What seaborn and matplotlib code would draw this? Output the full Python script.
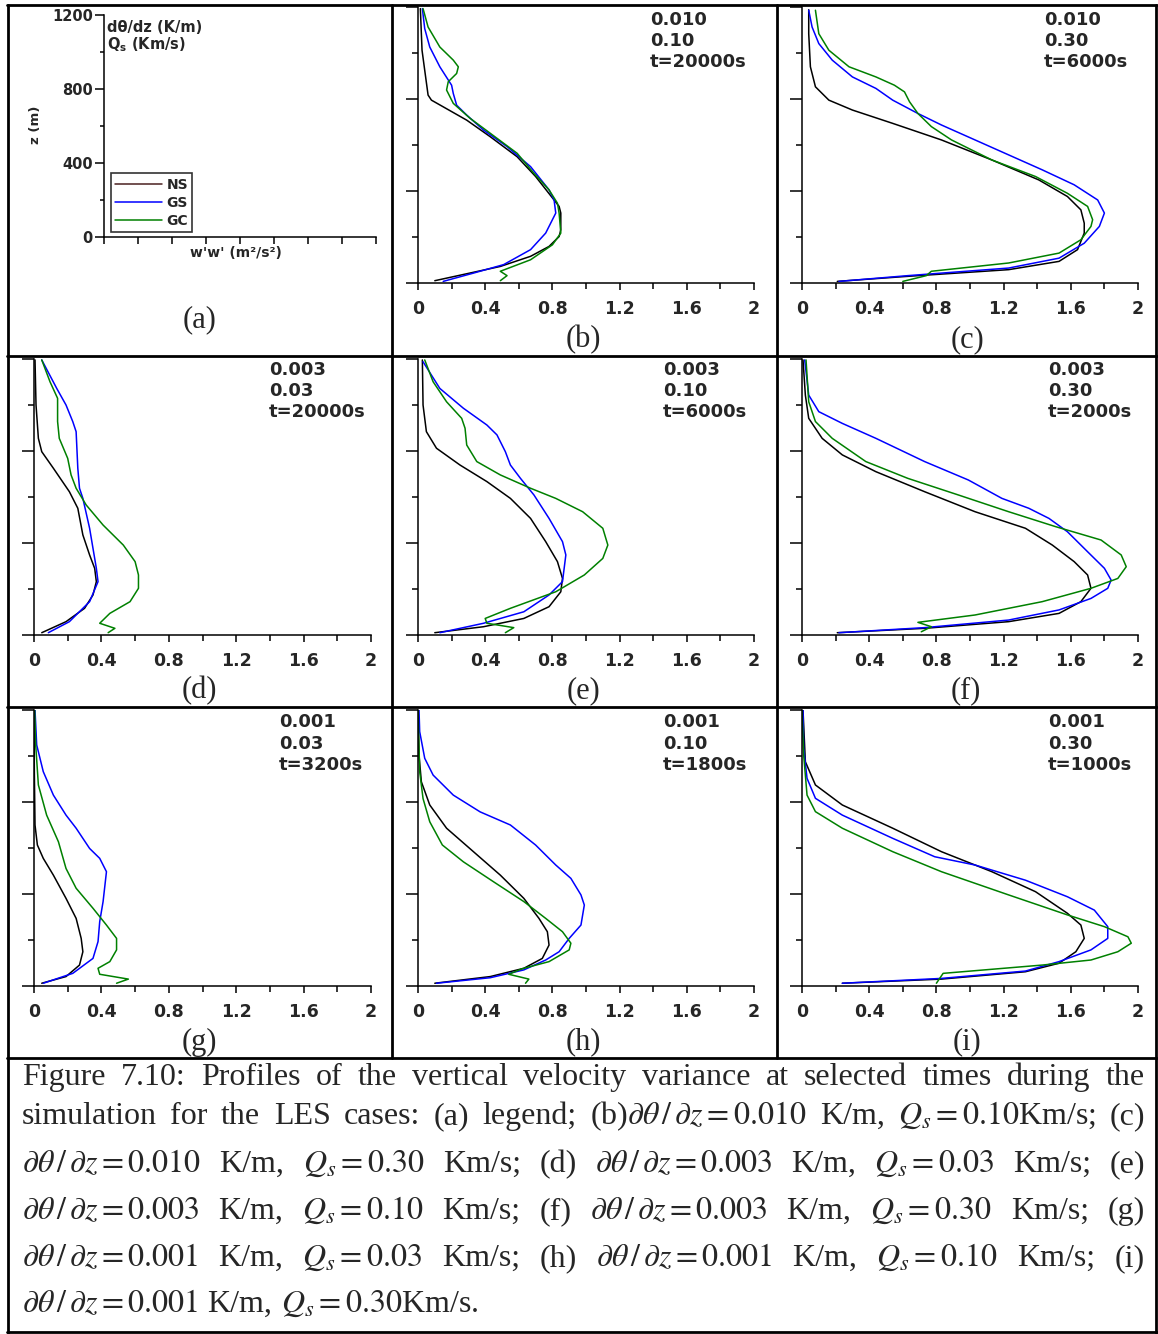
import numpy as np
import pandas as pd
import matplotlib
matplotlib.use("Agg")
import matplotlib.pyplot as plt
import seaborn as sns
from matplotlib.lines import Line2D
from matplotlib.ticker import MultipleLocator, FuncFormatter

# ---------------- data (w'w' in m2/s2 , z in m) ----------------
series_names = ["NS", "GS", "GC"]
series_colors = ["#000000", "#0000ff", "#008000"]
legend_colors = ["#4a2020", "#0000ff", "#008000"]

panel_letters = ["b", "c", "d", "e", "f", "g", "h", "i"]
panel_gradients = ["0.010", "0.010", "0.003", "0.003", "0.003", "0.001", "0.001", "0.001"]
panel_fluxes = ["0.10", "0.30", "0.03", "0.10", "0.30", "0.03", "0.10", "0.30"]
panel_times = ["t=20000s", "t=6000s", "t=20000s", "t=6000s", "t=2000s", "t=3200s", "t=1800s", "t=1000s"]

x_ticks = [0, 0.4, 0.8, 1.2, 1.6, 2]
z_ticks = [0, 400, 800, 1200]

# (b)
b_ns_x = [0.10, 0.49, 0.67, 0.78, 0.84, 0.85, 0.85, 0.84, 0.70, 0.59, 0.43, 0.29, 0.15, 0.08, 0.06, 0.04, 0.024, 0.014]
b_ns_z = [10, 72, 116, 159, 202, 231, 304, 333, 463, 549, 636, 708, 766, 795, 817, 925, 1012, 1193]
b_gs_x = [0.15, 0.33, 0.51, 0.67, 0.76, 0.82, 0.81, 0.78, 0.67, 0.53, 0.39, 0.29, 0.23, 0.21, 0.20, 0.13, 0.07, 0.04, 0.026]
b_gs_z = [7, 43, 80, 145, 217, 304, 361, 405, 506, 593, 665, 730, 773, 824, 860, 940, 1026, 1106, 1193]
b_gc_x = [0.49, 0.53, 0.49, 0.67, 0.80, 0.85, 0.84, 0.83, 0.78, 0.69, 0.59, 0.43, 0.31, 0.21, 0.17, 0.18, 0.23, 0.24, 0.21, 0.13, 0.06, 0.03]
b_gc_z = [10, 32, 51, 101, 166, 217, 304, 347, 405, 477, 564, 651, 716, 781, 839, 875, 911, 940, 969, 1026, 1113, 1193]

# (c)
c_ns_x = [0.21, 0.63, 1.23, 1.53, 1.64, 1.68, 1.68, 1.66, 1.58, 1.41, 1.13, 0.83, 0.54, 0.30, 0.16, 0.08, 0.05, 0.04, 0.04]
c_ns_z = [7, 29, 58, 94, 145, 217, 260, 318, 376, 448, 535, 622, 694, 752, 795, 853, 940, 1084, 1188]
c_gs_x = [0.22, 0.63, 1.23, 1.53, 1.68, 1.77, 1.80, 1.76, 1.62, 1.43, 1.23, 1.03, 0.83, 0.69, 0.54, 0.44, 0.30, 0.18, 0.10, 0.06, 0.04]
c_gs_z = [7, 32, 65, 108, 173, 246, 304, 361, 427, 492, 557, 622, 687, 737, 795, 846, 896, 969, 1041, 1113, 1186]
c_gc_x = [0.60, 0.74, 0.77, 1.23, 1.53, 1.66, 1.72, 1.73, 1.70, 1.58, 1.39, 1.13, 0.89, 0.77, 0.69, 0.64, 0.61, 0.55, 0.44, 0.28, 0.16, 0.10, 0.08]
c_gc_z = [7, 32, 51, 87, 130, 188, 246, 275, 333, 390, 463, 535, 622, 680, 737, 788, 831, 860, 896, 940, 1012, 1084, 1186]

# (d)
d_ns_x = [0.046, 0.19, 0.30, 0.35, 0.37, 0.36, 0.33, 0.29, 0.26, 0.21, 0.115, 0.046, 0.026, 0.012, 0.006]
d_ns_z = [10, 58, 116, 174, 232, 290, 348, 435, 551, 623, 725, 797, 855, 1000, 1196]
d_gs_x = [0.085, 0.21, 0.33, 0.38, 0.37, 0.35, 0.33, 0.29, 0.27, 0.26, 0.25, 0.23, 0.19, 0.135, 0.046]
d_gs_z = [10, 58, 145, 232, 290, 377, 464, 594, 638, 725, 884, 928, 1000, 1072, 1196]
d_gc_x = [0.44, 0.48, 0.39, 0.45, 0.57, 0.62, 0.62, 0.60, 0.53, 0.41, 0.31, 0.25, 0.22, 0.20, 0.15, 0.14, 0.14, 0.095, 0.046]
d_gc_z = [10, 29, 51, 94, 145, 203, 261, 319, 391, 478, 565, 638, 696, 768, 855, 928, 1029, 1101, 1196]

# (e)
e_ns_x = [0.10, 0.39, 0.63, 0.78, 0.85, 0.86, 0.83, 0.76, 0.67, 0.55, 0.41, 0.25, 0.11, 0.05, 0.03, 0.026]
e_ns_z = [10, 36, 72, 123, 188, 246, 319, 406, 507, 594, 667, 739, 812, 884, 1000, 1196]
e_gs_x = [0.13, 0.39, 0.63, 0.78, 0.86, 0.88, 0.86, 0.78, 0.69, 0.61, 0.55, 0.52, 0.47, 0.41, 0.27, 0.13, 0.03]
e_gs_z = [10, 51, 101, 174, 232, 348, 406, 507, 609, 681, 739, 797, 870, 913, 986, 1072, 1188]
e_gc_x = [0.52, 0.57, 0.41, 0.40, 0.55, 0.82, 0.99, 1.10, 1.13, 1.10, 0.98, 0.82, 0.67, 0.49, 0.35, 0.29, 0.28, 0.26, 0.17, 0.09, 0.04]
e_gc_z = [10, 32, 51, 72, 116, 188, 261, 333, 391, 464, 536, 594, 638, 696, 754, 826, 899, 942, 1014, 1101, 1196]

# (f)
f_ns_x = [0.21, 0.73, 1.23, 1.53, 1.66, 1.72, 1.70, 1.62, 1.49, 1.33, 1.03, 0.73, 0.44, 0.24, 0.12, 0.04, 0.02, 0.006]
f_ns_z = [10, 29, 58, 94, 145, 203, 261, 319, 391, 464, 536, 623, 710, 783, 855, 942, 1043, 1196]
f_gs_x = [0.22, 0.73, 1.23, 1.53, 1.72, 1.82, 1.84, 1.80, 1.70, 1.58, 1.47, 1.35, 1.19, 0.99, 0.73, 0.44, 0.24, 0.10, 0.04, 0.016]
f_gs_z = [10, 32, 65, 109, 159, 203, 239, 290, 362, 449, 507, 551, 594, 674, 754, 855, 920, 971, 1043, 1196]
f_gc_x = [0.71, 0.77, 0.69, 1.03, 1.43, 1.72, 1.88, 1.93, 1.90, 1.78, 1.51, 1.23, 0.93, 0.63, 0.38, 0.18, 0.08, 0.04, 0.024]
f_gc_z = [14, 36, 55, 87, 145, 203, 246, 297, 348, 413, 471, 536, 609, 681, 754, 855, 928, 1014, 1196]

# (g)
g_ns_x = [0.046, 0.19, 0.27, 0.29, 0.28, 0.25, 0.19, 0.115, 0.055, 0.02, 0.006, 0.002, 0.0]
g_ns_z = [12, 41, 91, 149, 207, 294, 381, 482, 555, 613, 700, 932, 1200]
g_gs_x = [0.055, 0.23, 0.35, 0.38, 0.39, 0.41, 0.43, 0.39, 0.33, 0.25, 0.19, 0.115, 0.055, 0.016, 0.006]
g_gs_z = [12, 55, 120, 193, 280, 367, 497, 555, 598, 686, 743, 830, 932, 1048, 1200]
g_gc_x = [0.49, 0.56, 0.39, 0.38, 0.45, 0.49, 0.49, 0.43, 0.35, 0.25, 0.19, 0.145, 0.075, 0.026, 0.01, 0.004]
g_gc_z = [12, 30, 51, 77, 106, 157, 207, 265, 338, 425, 511, 627, 743, 874, 1048, 1200]

# (h)
h_ns_x = [0.10, 0.43, 0.63, 0.74, 0.78, 0.77, 0.72, 0.63, 0.49, 0.33, 0.17, 0.07, 0.02, 0.006, 0.0]
h_ns_z = [12, 41, 77, 120, 178, 236, 294, 381, 482, 584, 686, 787, 888, 1004, 1200]
h_gs_x = [0.11, 0.43, 0.63, 0.76, 0.84, 0.90, 0.97, 0.99, 0.97, 0.91, 0.82, 0.70, 0.55, 0.37, 0.21, 0.09, 0.04, 0.01, 0.006]
h_gs_z = [12, 36, 70, 113, 149, 207, 265, 352, 396, 468, 526, 613, 700, 757, 830, 917, 990, 1106, 1200]
h_gc_x = [0.64, 0.66, 0.54, 0.62, 0.78, 0.90, 0.91, 0.86, 0.76, 0.63, 0.45, 0.27, 0.145, 0.07, 0.03, 0.01, 0.0]
h_gc_z = [12, 30, 51, 75, 106, 157, 186, 236, 294, 367, 453, 540, 613, 714, 815, 932, 1200]

# (i)
i_ns_x = [0.24, 0.83, 1.33, 1.53, 1.63, 1.68, 1.66, 1.58, 1.39, 1.13, 0.83, 0.54, 0.24, 0.08, 0.02, 0.006]
i_ns_z = [12, 30, 62, 99, 149, 207, 265, 316, 410, 497, 584, 686, 787, 874, 975, 1200]
i_gs_x = [0.24, 0.83, 1.33, 1.53, 1.72, 1.82, 1.82, 1.74, 1.58, 1.33, 1.03, 0.79, 0.54, 0.24, 0.08, 0.03, 0.01, 0.006]
i_gs_z = [12, 33, 65, 106, 157, 207, 258, 330, 388, 460, 526, 562, 642, 743, 816, 903, 1033, 1200]
i_gc_x = [0.80, 0.84, 1.43, 1.72, 1.88, 1.96, 1.94, 1.80, 1.58, 1.23, 0.83, 0.54, 0.24, 0.08, 0.03, 0.01, 0.0]
i_gc_z = [12, 55, 91, 113, 149, 186, 214, 258, 309, 396, 497, 584, 686, 758, 830, 1004, 1200]

panel_data = {
    "b": [(b_ns_x, b_ns_z), (b_gs_x, b_gs_z), (b_gc_x, b_gc_z)],
    "c": [(c_ns_x, c_ns_z), (c_gs_x, c_gs_z), (c_gc_x, c_gc_z)],
    "d": [(d_ns_x, d_ns_z), (d_gs_x, d_gs_z), (d_gc_x, d_gc_z)],
    "e": [(e_ns_x, e_ns_z), (e_gs_x, e_gs_z), (e_gc_x, e_gc_z)],
    "f": [(f_ns_x, f_ns_z), (f_gs_x, f_gs_z), (f_gc_x, f_gc_z)],
    "g": [(g_ns_x, g_ns_z), (g_gs_x, g_gs_z), (g_gc_x, g_gc_z)],
    "h": [(h_ns_x, h_ns_z), (h_gs_x, h_gs_z), (h_gc_x, h_gc_z)],
    "i": [(i_ns_x, i_ns_z), (i_gs_x, i_gs_z), (i_gc_x, i_gc_z)],
}

caption_lines = [
    ["Figure", "7.10:", "Profiles", "of", "the", "vertical", "velocity", "variance", "at", "selected", "times", "during", "the"],
    ["simulation", "for", "the", "LES", "cases:", "(a)", "legend;", r"(b)$\partial\theta\,/\,\partial z = 0.010$", "K/m,", r"$Q_s = 0.10$Km/s;", "(c)"],
    [r"$\partial\theta\,/\,\partial z = 0.010$", "K/m,", r"$Q_s = 0.30$", "Km/s;", "(d)", r"$\partial\theta\,/\,\partial z = 0.003$", "K/m,", r"$Q_s = 0.03$", "Km/s;", "(e)"],
    [r"$\partial\theta\,/\,\partial z = 0.003$", "K/m,", r"$Q_s = 0.10$", "Km/s;", "(f)", r"$\partial\theta\,/\,\partial z = 0.003$", "K/m,", r"$Q_s = 0.30$", "Km/s;", "(g)"],
    [r"$\partial\theta\,/\,\partial z = 0.001$", "K/m,", r"$Q_s = 0.03$", "Km/s;", "(h)", r"$\partial\theta\,/\,\partial z = 0.001$", "K/m,", r"$Q_s = 0.10$", "Km/s;", "(i)"],
    [r"$\partial\theta\,/\,\partial z = 0.001$", "K/m,", r"$Q_s = 0.30$Km/s."],
]

# ---------------- styling ----------------
sns.set_theme(style="ticks")
plt.rcParams["font.family"] = ["DejaVu Sans"]
plt.rcParams["mathtext.fontset"] = "stix"
plt.rcParams["axes.linewidth"] = 1.1

W, H = 1158, 1334
fig = plt.figure(figsize=(W / 100, H / 100), dpi=100)


def rect(l, t, r, b):
    return [l / W, 1 - b / H, (r - l) / W, (b - t) / H]


def P(px, py):
    return (px / W, 1 - py / H)


SANS_B = dict(family="DejaVu Sans", weight="bold")
SERIF = "Liberation Serif"

panel_rects = {
    "b": (418, 7, 754, 283), "c": (802, 7, 1138, 283),
    "d": (34, 359, 371, 635), "e": (418, 359, 754, 635), "f": (802, 359, 1138, 635),
    "g": (34, 710, 371, 986), "h": (418, 710, 754, 986), "i": (802, 710, 1138, 986),
}
annot_x = {"b": 650, "c": 1044, "d": 269, "e": 663, "f": 1048, "g": 279, "h": 663, "i": 1048}
row_annot_y = {7: (20, 41, 62), 359: (370, 391, 412), 710: (722, 744, 765)}
label_pos = {"a": (200, 320), "b": (583, 340), "c": (968, 340),
             "d": (199, 691), "e": (583, 691), "f": (966, 691),
             "g": (199, 1042), "h": (583, 1042), "i": (967, 1042)}


def style_axis(ax, xmax):
    ax.set_xlim(0, xmax)
    ax.set_ylim(0, 1200)
    ax.set_xlabel("")
    ax.set_ylabel("")
    sns.despine(ax=ax)
    for s in ("left", "bottom"):
        ax.spines[s].set_linewidth(1.1)
        ax.spines[s].set_color("black")
    ax.xaxis.set_major_locator(MultipleLocator(0.4))
    ax.xaxis.set_minor_locator(MultipleLocator(0.2))
    ax.yaxis.set_major_locator(MultipleLocator(400))
    ax.yaxis.set_minor_locator(MultipleLocator(200))
    ax.tick_params(axis="y", which="major", length=8.5, width=1.1, direction="out", color="black")
    ax.tick_params(axis="y", which="minor", length=4.5, width=1.1, direction="out", color="black")
    ax.tick_params(axis="x", which="major", length=5, width=1.1, direction="out", color="black")
    ax.tick_params(axis="x", which="minor", length=4.5, width=1.1, direction="out", color="black")
    ax.patch.set_alpha(0)


# ---------------- panel (a) : legend panel ----------------
ax_a = fig.add_axes(rect(104, 15, 376, 237))
style_axis(ax_a, 1.6)
ax_a.tick_params(axis="y", which="major", length=6.5, pad=1.5, labelsize=10.5)
ax_a.tick_params(axis="y", which="minor", length=3)
ax_a.tick_params(axis="x", which="both", labelbottom=False, length=5)
ax_a.set_yticks(z_ticks)
ax_a.set_yticklabels([str(v) for v in z_ticks], fontweight="bold", fontsize=10.5)
handles = [Line2D([], [], color=c, lw=1.1) for c in legend_colors]
leg = ax_a.legend(handles, series_names, loc="lower left", bbox_to_anchor=(0.026, 0.022),
                  borderaxespad=0, frameon=True, fancybox=False, edgecolor="#333333",
                  framealpha=1, handlelength=3.4, handletextpad=0.3, labelspacing=0.3,
                  borderpad=0.3, prop=dict(family="DejaVu Sans", weight="bold", size=10))
leg.get_frame().set_linewidth(1.2)
fig.text(*P(107, 27), "dθ/dz (K/m)", fontsize=10.5, va="center", ha="left", **SANS_B)
fig.text(*P(107, 45), r"Q$_\mathbf{s}$ (Km/s)", fontsize=10.5, va="center", ha="left",
         math_fontfamily="dejavusans", **SANS_B)
fig.text(*P(35, 125), "z (m)", fontsize=9.5, rotation=90, va="center", ha="center", **SANS_B)
fig.text(*P(236, 253), "w'w' (m²/s²)", fontsize=10, va="center", ha="center", **SANS_B)

# ---------------- data panels ----------------
for k, letter in enumerate(panel_letters):
    l, t, r, b = panel_rects[letter]
    ax = fig.add_axes(rect(l, t, r, b))
    for (xs, zs), color in zip(panel_data[letter], series_colors):
        df = pd.DataFrame({"w": xs, "z": zs})
        sns.lineplot(data=df, x="w", y="z", sort=False, estimator=None,
                     color=color, lw=1.1, ax=ax)
    style_axis(ax, 2)
    ax.set_xticks(x_ticks)
    ax.xaxis.set_major_formatter(FuncFormatter(lambda v, p: f"{v:g}"))
    ax.tick_params(axis="x", which="major", pad=7, labelsize=12.5)
    for lab in ax.get_xticklabels():
        lab.set_fontweight("bold")
        lab.set_family("DejaVu Sans")
    ax.tick_params(axis="y", which="both", labelleft=False)
    ys = row_annot_y[t]
    for txt, yy in zip((panel_gradients[k], panel_fluxes[k], panel_times[k]), ys):
        fig.text(*P(annot_x[letter], yy), txt, fontsize=13, va="center", ha="left", **SANS_B)

for letter, (px, py) in label_pos.items():
    fig.text(*P(px, py), f"({letter})", fontsize=22, family=SERIF, va="center", ha="center")

# ---------------- cell borders ----------------
def hline(y, x0, x1):
    fig.add_artist(Line2D([x0 / W, x1 / W], [1 - y / H, 1 - y / H], color="black", lw=2,
                          transform=fig.transFigure))


def vline(x, y0, y1):
    fig.add_artist(Line2D([x / W, x / W], [1 - y0 / H, 1 - y1 / H], color="black", lw=2,
                          transform=fig.transFigure))


hline(5, 7, 1157)
for yy in (356, 707, 1058):
    hline(yy, 7, 1157)
hline(1332, 7, 1157)
vline(8, 5, 1333)
vline(1156, 5, 1333)
for xx in (392, 777):
    vline(xx, 5, 1058)

# ---------------- caption (justified) ----------------
renderer = fig.canvas.get_renderer()
cap_left, cap_right = 22, 1145
cap_baselines = [1085, 1124, 1172, 1219, 1266, 1312]
cap_fs = 23
for li, (tokens, base) in enumerate(zip(caption_lines, cap_baselines)):
    texts = [fig.text(0, 0, tok, fontsize=cap_fs, family=SERIF, va="baseline", ha="left")
             for tok in tokens]
    widths = [tx.get_window_extent(renderer).width for tx in texts]
    if li < len(caption_lines) - 1:
        gap = (cap_right - cap_left - sum(widths)) / (len(tokens) - 1)
    else:
        gap = 9
    x = cap_left
    for tx, w in zip(texts, widths):
        tx.set_position(P(x, base))
        x += w + gap

fig.savefig("out.png", dpi=100)
